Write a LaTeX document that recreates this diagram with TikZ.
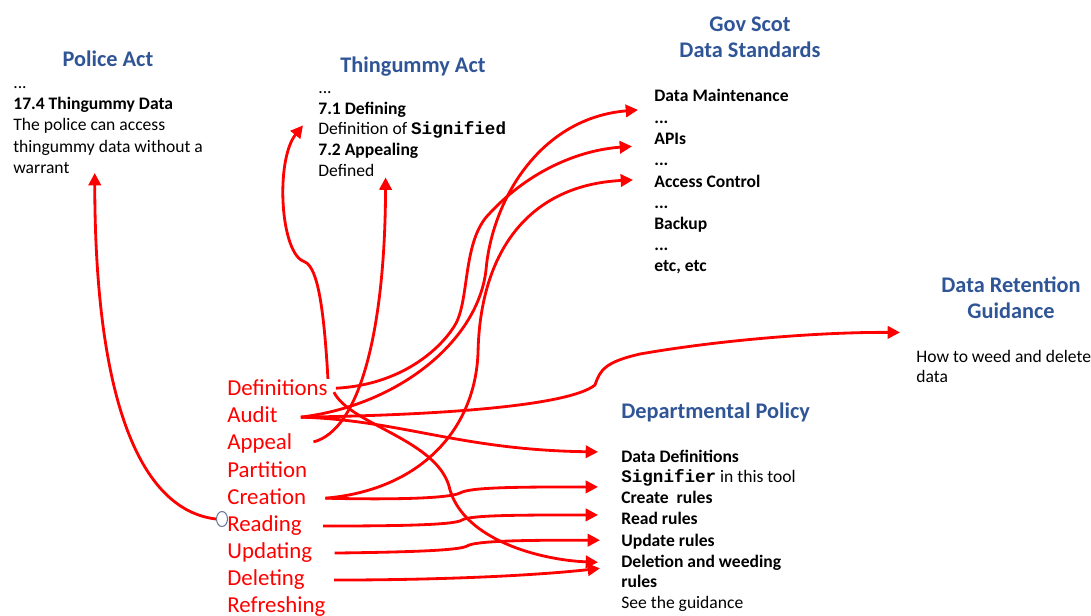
\documentclass[tikz,border=0pt]{standalone}
\usepackage{fontspec}
\setmainfont{Carlito}
\setmonofont{Liberation Mono}
\usetikzlibrary{arrows.meta,shapes.geometric}
\definecolor{govblue}{RGB}{47, 85, 151}
\definecolor{linkred}{RGB}{255, 0, 0}
\definecolor{slate}{RGB}{105, 120, 150}
\tikzset{
    heading/.style={font=\fontsize{12.7}{15.9}\selectfont\bfseries, text=govblue, anchor=base, inner sep=0pt},
    entry/.style={font=\fontsize{10}{12}\selectfont, anchor=base west, inner sep=0pt},
    keyentry/.style={entry, font=\fontsize{10}{12}\selectfont\bfseries},
    action/.style={font=\fontsize{13}{15.5}\selectfont, text=linkred, anchor=base west, inner sep=0pt},
    link/.style={draw=linkred, line width=1.6pt, -{Triangle[length=7pt,width=7pt]}}
}
\begin{document}
\begin{tikzpicture}[x=0.02cm, y=-0.02cm]
            \useasboundingbox (0,0) rectangle (1091,615);
            \node[heading]                 (ptitle) at ( 108, 67) {Police Act};
            \node[entry]                   (pdots)  at (  13, 89) {...};
            \node[keyentry]                (psec)   at (  13,110) {17.4 Thingummy Data};
            \node[entry]                   (ptxt)   at (  13,131) {The police can access};
            \node[entry]                   (ptxtb)  at (  13,152) {thingummy data without a};
            \node[entry]                   (pwar)   at (  13,173) {warrant};
            \node[heading]                 (ttitle) at ( 413, 72) {Thingummy Act};
            \node[entry]                   (tdots)  at ( 318, 93) {...};
            \node[keyentry]                (tsec)   at ( 318,114) {7.1 Defining};
            \node[entry]                   (tdefn)  at ( 318,134) {Definition of \texttt{\bfseries Signified}};
            \node[keyentry]                (tapp)   at ( 318,155) {7.2 Appealing};
            \node[entry]                   (tdef)   at ( 318,176) {Defined};
            \node[heading]                 (gtitle) at ( 750, 32) {Gov Scot};
            \node[heading]                 (gtitleb)at ( 750, 58) {Data Standards};
            \node[keyentry]                (dm)     at ( 654,102) {Data Maintenance};
            \node[keyentry]                (gdotsa) at ( 654,123) {...};
            \node[keyentry]                (apis)   at ( 654,144) {APIs};
            \node[keyentry]                (gdotsb) at ( 654,165) {...};
            \node[keyentry]                (acc)    at ( 654,187) {Access Control};
            \node[keyentry]                (gdotsc) at ( 654,208) {...};
            \node[keyentry]                (bkp)    at ( 654,229) {Backup};
            \node[keyentry]                (gdotsd) at ( 654,250) {...};
            \node[keyentry]                (getc)   at ( 654,271) {etc, etc};
            \node[heading]                 (rtitle) at (1011,292) {Data Retention};
            \node[heading]                 (rtitleb)at (1011,318) {Guidance};
            \node[entry]                   (rbody)  at ( 916,362) {How to weed and delete};
            \node[entry]                   (rbodyb) at ( 916,382) {data};
            \node[heading, anchor=base west](dtitle) at ( 621,418) {Departmental Policy};
            \node[keyentry]                (ddef)   at ( 621,462) {Data Definitions};
            \node[entry]                   (dsig)   at ( 621,482) {\texttt{\bfseries Signifier} in this tool};
            \node[keyentry]                (crt)    at ( 621,503) {Create\ \ rules};
            \node[keyentry]                (rd)     at ( 621,524) {Read rules};
            \node[keyentry]                (upd)    at ( 621,546) {Update rules};
            \node[keyentry]                (deln)   at ( 621,567) {Deletion and weeding};
            \node[keyentry]                (delnb)  at ( 621,587) {rules};
            \node[entry]                   (dsee)   at ( 621,608) {See the guidance};
            \node[action]                  (defs)     at (227,395) {Definitions};
            \node[action]                  (audit)    at (227,422) {Audit};
            \node[action]                  (appeal)   at (227,449) {Appeal};
            \node[action]                  (partition)at (227,477) {Partition};
            \node[action]                  (creation) at (227,504) {Creation};
            \node[action]                  (reading)  at (227,531) {Reading};
            \node[action]                  (updating) at (227,558) {Updating};
            \node[action]                  (deleting) at (227,585) {Deleting};
            \node[action]                  (refresh)  at (227,612) {Refreshing};
            \node[ellipse, draw=slate, line width=0.6pt, minimum width=0.22cm, minimum height=0.3cm, inner sep=0pt] (rdot) at (222,519) {};
            \draw[link] (rdot.west) .. controls (140,510) and (95,400) .. ([shift={(25,0)}]pwar.base east);
            \draw[link] (defs.north east) .. controls (324,310) and (318,268) .. (305,262)
                 .. controls (280,255) and (275,160) .. ([shift={(-15,-4)}]tdefn.west);
            \draw[link] ([shift={(21,-1)}]appeal.east) .. controls (360,430) and (385,330) .. ([shift={(11,1)}]tdef.south east);
            \draw[link] ([shift={(23,3)}]audit.east) .. controls (400,405) and (478,340) .. (486,270)
                 .. controls (492,200) and (540,118) .. ([shift={(-16,14)}]dm.west);
            \draw[link] ([shift={(8,1)}]defs.east) .. controls (400,385) and (440,350) .. (455,325)
                 .. controls (470,300) and (462,240) .. (490,213) .. controls (530,170) and (580,150) .. ([shift={(-22,8)}]apis.west);
            \draw[link] ([shift={(19,2)}]creation.east) .. controls (420,490) and (475,430) .. (478,353)
                 .. controls (480,250) and (530,185) .. ([shift={(-21,-1)}]acc.west);
            \draw[link] ([shift={(23,3)}]audit.east) .. controls (450,415) and (570,405) .. (595,385)
                 .. controls (600,370) and (605,362) .. (640,354) .. controls (720,340) and (820,332) .. ([shift={(-16,-17)}]rbody.north west);
            \draw[link] ([shift={(23,3)}]audit.east) .. controls (400,420) and (460,450) .. ([shift={(-23,-4)}]ddef.west);
            \draw[link] ([shift={(6,5)}]defs.east) .. controls (350,425) and (440,440) .. (450,490)
                 .. controls (465,540) and (540,560) .. ([shift={(-23,0)}]deln.west);
            \draw[link] ([shift={(19,2)}]creation.east) .. controls (400,500) and (450,498) .. (460,493)
                 .. controls (470,487) and (520,487) .. ([shift={(-23,-10)}]crt.west);
            \draw[link] ([shift={(21,1)}]reading.east) .. controls (400,526) and (455,525) .. (462,520)
                 .. controls (470,515) and (520,515) .. ([shift={(-23,-3)}]rd.west);
            \draw[link] ([shift={(22,1)}]updating.east) .. controls (420,552) and (460,550) .. (467,546)
                 .. controls (475,541) and (520,540) .. ([shift={(-21,-1)}]upd.west);
            \draw[link] ([shift={(29,1)}]deleting.east) .. controls (450,580) and (540,575) .. ([shift={(-21,6)}]deln.west);
        \end{tikzpicture}
\end{document}
